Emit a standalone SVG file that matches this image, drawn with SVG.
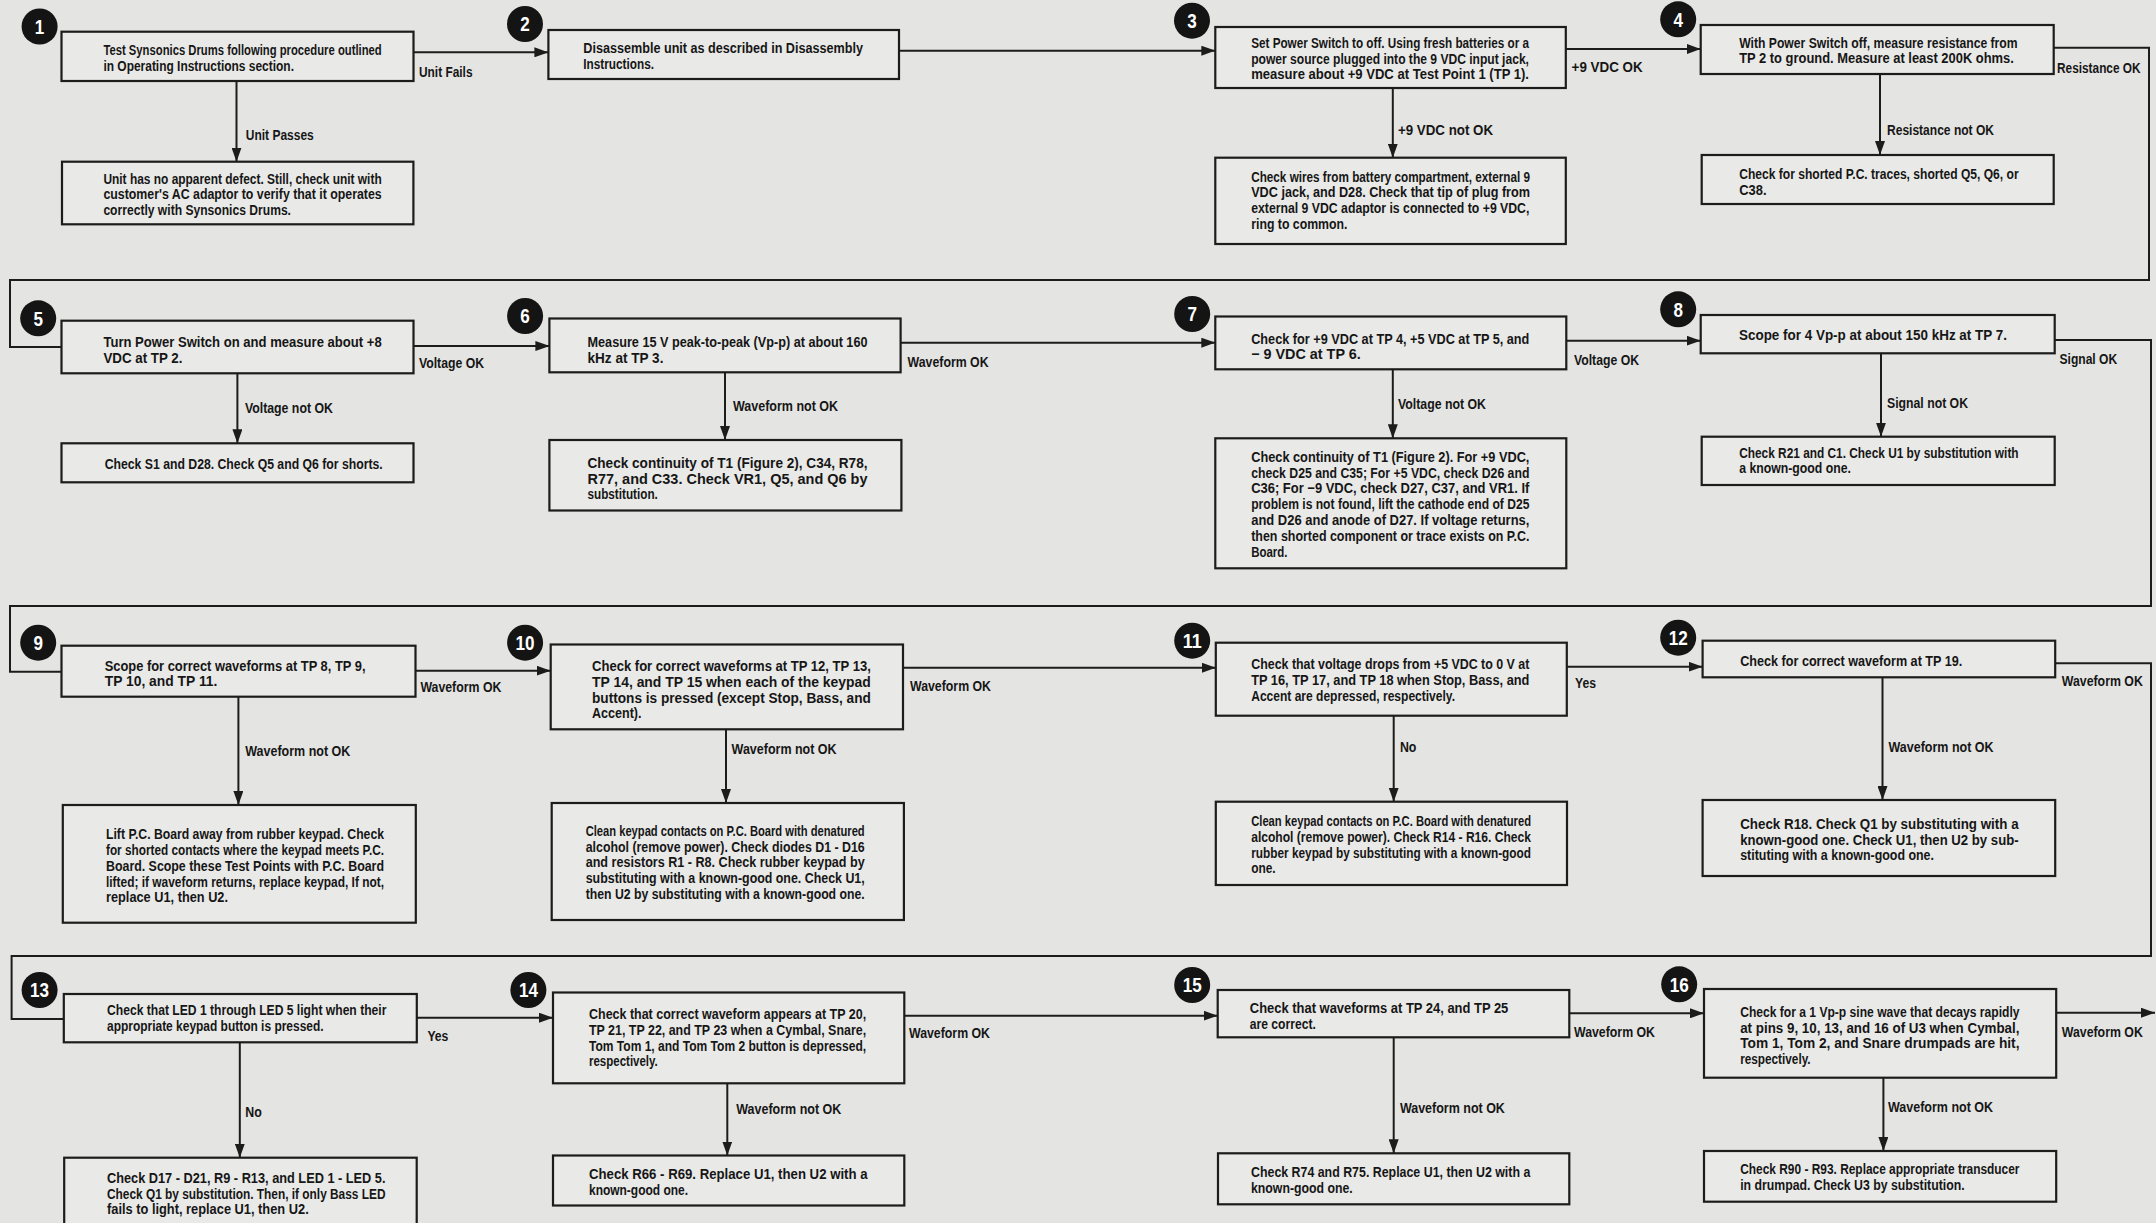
<svg xmlns="http://www.w3.org/2000/svg" width="2156" height="1223" viewBox="0 0 2156 1223">
<style>
.bg{fill:#e4e4e2}
.box{fill:#e9e9e7;stroke:#1c1c1c;stroke-width:2.2}
.badge{fill:#141414}
.num{font-family:"Liberation Sans Narrow","Liberation Sans",Arial,sans-serif;font-weight:700;font-size:21px;fill:#ffffff;text-anchor:middle}
.t{font-family:"Liberation Sans Narrow","Liberation Sans",Arial,sans-serif;font-weight:700;font-size:14.5px;fill:#161616}
.lbl{font-family:"Liberation Sans Narrow","Liberation Sans",Arial,sans-serif;font-weight:700;font-size:14.5px;fill:#161616}
.c{fill:none;stroke:#1c1c1c;stroke-width:2}
.ar{marker-end:url(#ah)}
</style>
<defs>
<marker id="ah" viewBox="0 0 14 10" markerWidth="14" markerHeight="10" refX="14" refY="5" orient="auto" markerUnits="userSpaceOnUse">
<path d="M0,0 L14,5 L0,10 z" fill="#1c1c1c"/>
</marker>
</defs>
<rect class="bg" x="0" y="0" width="2156" height="1223"/>

<g id="connectors">
<path class="c ar" d="M413.4,52.3 H548.4"/>
<path class="c ar" d="M899,50.7 H1215.3"/>
<path class="c ar" d="M1565.5,49 H1700.7"/>
<path class="c ar" d="M236.5,81 V161.7"/>
<path class="c ar" d="M1392.8,88 V157.7"/>
<path class="c ar" d="M1880,74 V155"/>
<path class="c" d="M2053.7,47.7 H2149 V280 H10 V347 H61.5"/>
<path class="c ar" d="M413.4,346 H549.4"/>
<path class="c ar" d="M900.6,342.7 H1215.3"/>
<path class="c ar" d="M1566.3,340.7 H1700.7"/>
<path class="c ar" d="M237.4,373.3 V443.3"/>
<path class="c ar" d="M725,372.3 V440"/>
<path class="c ar" d="M1392.8,369.3 V438.3"/>
<path class="c ar" d="M1881,353.3 V436.7"/>
<path class="c" d="M2054.7,340 H2151 V606 H10 V671.7 H61.5"/>
<path class="c ar" d="M415.5,670.7 H550.7"/>
<path class="c ar" d="M903,667.7 H1215.8"/>
<path class="c ar" d="M1566.8,666.7 H1702.6"/>
<path class="c ar" d="M238.4,696.7 V805"/>
<path class="c ar" d="M726,729.3 V803"/>
<path class="c ar" d="M1393.7,715.7 V801.7"/>
<path class="c ar" d="M1882.5,677.3 V800"/>
<path class="c" d="M2055.2,663.3 H2151 V956 H11.6 V1019 H63.8"/>
<path class="c ar" d="M416.7,1017.7 H553"/>
<path class="c ar" d="M904.3,1015.7 H1217.7"/>
<path class="c ar" d="M1569.3,1013.3 H1704"/>
<path class="c ar" d="M239.8,1042.3 V1157.7"/>
<path class="c ar" d="M727.3,1083.3 V1155.5"/>
<path class="c ar" d="M1393.7,1037.3 V1153.3"/>
<path class="c ar" d="M1883.4,1077.7 V1151"/>
<path class="c ar" d="M2056.2,1012.7 H2155"/>

<text class="lbl" x="419" y="77" textLength="53.5" lengthAdjust="spacingAndGlyphs">Unit Fails</text>
<text class="lbl" x="245.8" y="140" textLength="68" lengthAdjust="spacingAndGlyphs">Unit Passes</text>
<text class="lbl" x="1571.6" y="72" textLength="71" lengthAdjust="spacingAndGlyphs">+9 VDC OK</text>
<text class="lbl" x="1398" y="135" textLength="95" lengthAdjust="spacingAndGlyphs">+9 VDC not OK</text>
<text class="lbl" x="2057" y="73" textLength="83.6" lengthAdjust="spacingAndGlyphs">Resistance OK</text>
<text class="lbl" x="1887" y="135" textLength="107" lengthAdjust="spacingAndGlyphs">Resistance not OK</text>
<text class="lbl" x="419" y="367.7" textLength="65" lengthAdjust="spacingAndGlyphs">Voltage OK</text>
<text class="lbl" x="244.9" y="413.3" textLength="88" lengthAdjust="spacingAndGlyphs">Voltage not OK</text>
<text class="lbl" x="907.6" y="366.7" textLength="81" lengthAdjust="spacingAndGlyphs">Waveform OK</text>
<text class="lbl" x="733" y="410.7" textLength="105" lengthAdjust="spacingAndGlyphs">Waveform not OK</text>
<text class="lbl" x="1574" y="365" textLength="65" lengthAdjust="spacingAndGlyphs">Voltage OK</text>
<text class="lbl" x="1398" y="409" textLength="88" lengthAdjust="spacingAndGlyphs">Voltage not OK</text>
<text class="lbl" x="2059.5" y="364" textLength="57.7" lengthAdjust="spacingAndGlyphs">Signal OK</text>
<text class="lbl" x="1887" y="408.3" textLength="81" lengthAdjust="spacingAndGlyphs">Signal not OK</text>
<text class="lbl" x="420.4" y="691.7" textLength="81" lengthAdjust="spacingAndGlyphs">Waveform OK</text>
<text class="lbl" x="245.3" y="756" textLength="105" lengthAdjust="spacingAndGlyphs">Waveform not OK</text>
<text class="lbl" x="910" y="690.7" textLength="81" lengthAdjust="spacingAndGlyphs">Waveform OK</text>
<text class="lbl" x="731.6" y="754" textLength="105" lengthAdjust="spacingAndGlyphs">Waveform not OK</text>
<text class="lbl" x="1575" y="688.3" textLength="21" lengthAdjust="spacingAndGlyphs">Yes</text>
<text class="lbl" x="1399.9" y="751.7" textLength="16.5" lengthAdjust="spacingAndGlyphs">No</text>
<text class="lbl" x="2061.8" y="686" textLength="81" lengthAdjust="spacingAndGlyphs">Waveform OK</text>
<text class="lbl" x="1888.5" y="751.7" textLength="105" lengthAdjust="spacingAndGlyphs">Waveform not OK</text>
<text class="lbl" x="427.4" y="1040.7" textLength="21" lengthAdjust="spacingAndGlyphs">Yes</text>
<text class="lbl" x="245.3" y="1116.7" textLength="16.5" lengthAdjust="spacingAndGlyphs">No</text>
<text class="lbl" x="909" y="1038.3" textLength="81" lengthAdjust="spacingAndGlyphs">Waveform OK</text>
<text class="lbl" x="736.3" y="1114" textLength="105" lengthAdjust="spacingAndGlyphs">Waveform not OK</text>
<text class="lbl" x="1574" y="1036.7" textLength="81" lengthAdjust="spacingAndGlyphs">Waveform OK</text>
<text class="lbl" x="1399.9" y="1112.7" textLength="105" lengthAdjust="spacingAndGlyphs">Waveform not OK</text>
<text class="lbl" x="2061.8" y="1036.7" textLength="81" lengthAdjust="spacingAndGlyphs">Waveform OK</text>
<text class="lbl" x="1888" y="1111.7" textLength="105" lengthAdjust="spacingAndGlyphs">Waveform not OK</text>
</g>

<g id="n1">
<rect class="box" x="61.5" y="31.7" width="352" height="49.3"/>
<circle class="badge" cx="39.6" cy="26.5" r="18"/>
<text class="num" x="39.6" y="33.8" textLength="9.5" lengthAdjust="spacingAndGlyphs">1</text>
<text class="t" x="103.4" y="55" textLength="278.3" lengthAdjust="spacingAndGlyphs">Test Synsonics Drums following procedure outlined</text>
<text class="t" x="103.4" y="70.7" textLength="190.6" lengthAdjust="spacingAndGlyphs">in Operating Instructions section.</text>
</g>
<g id="n1b">
<rect class="box" x="62" y="161.7" width="351.4" height="62.6"/>
<text class="t" x="103.4" y="183.5" textLength="278.3" lengthAdjust="spacingAndGlyphs">Unit has no apparent defect. Still, check unit with</text>
<text class="t" x="103.4" y="199.3" textLength="278.3" lengthAdjust="spacingAndGlyphs">customer's AC adaptor to verify that it operates</text>
<text class="t" x="103.4" y="215" textLength="187.6" lengthAdjust="spacingAndGlyphs">correctly with Synsonics Drums.</text>
</g>
<g id="n2">
<rect class="box" x="548.4" y="30" width="350.6" height="49"/>
<circle class="badge" cx="525" cy="24" r="18"/>
<text class="num" x="525" y="31.3" textLength="9.5" lengthAdjust="spacingAndGlyphs">2</text>
<text class="t" x="583.3" y="53" textLength="279.7" lengthAdjust="spacingAndGlyphs">Disassemble unit as described in Disassembly</text>
<text class="t" x="583.3" y="69" textLength="70.7" lengthAdjust="spacingAndGlyphs">Instructions.</text>
</g>
<g id="n3">
<rect class="box" x="1215.3" y="27" width="350.5" height="61"/>
<circle class="badge" cx="1192" cy="20.7" r="18"/>
<text class="num" x="1192" y="28" textLength="9.5" lengthAdjust="spacingAndGlyphs">3</text>
<text class="t" x="1251.2" y="48" textLength="277.8" lengthAdjust="spacingAndGlyphs">Set Power Switch to off. Using fresh batteries or a</text>
<text class="t" x="1251.2" y="63.5" textLength="277.8" lengthAdjust="spacingAndGlyphs">power source plugged into the 9 VDC input jack,</text>
<text class="t" x="1251.2" y="79" textLength="277.8" lengthAdjust="spacingAndGlyphs">measure about +9 VDC at Test Point 1 (TP 1).</text>
</g>
<g id="n3b">
<rect class="box" x="1215.3" y="157.7" width="350.5" height="86.3"/>
<text class="t" x="1251.2" y="181.7" textLength="278.8" lengthAdjust="spacingAndGlyphs">Check wires from battery compartment, external 9</text>
<text class="t" x="1251.2" y="197.4" textLength="278.8" lengthAdjust="spacingAndGlyphs">VDC jack, and D28. Check that tip of plug from</text>
<text class="t" x="1251.2" y="213" textLength="278.2" lengthAdjust="spacingAndGlyphs">external 9 VDC adaptor is connected to +9 VDC,</text>
<text class="t" x="1251.2" y="228.7" textLength="96.3" lengthAdjust="spacingAndGlyphs">ring to common.</text>
</g>
<g id="n4">
<rect class="box" x="1700.7" y="25" width="353" height="49"/>
<circle class="badge" cx="1678.2" cy="19.3" r="18"/>
<text class="num" x="1678.2" y="26.6" textLength="9.5" lengthAdjust="spacingAndGlyphs">4</text>
<text class="t" x="1739.2" y="47.7" textLength="278.4" lengthAdjust="spacingAndGlyphs">With Power Switch off, measure resistance from</text>
<text class="t" x="1739.2" y="63.3" textLength="274.7" lengthAdjust="spacingAndGlyphs">TP 2 to ground. Measure at least 200K ohms.</text>
</g>
<g id="n4b">
<rect class="box" x="1701.7" y="155" width="352" height="49"/>
<text class="t" x="1739.2" y="179.3" textLength="279.4" lengthAdjust="spacingAndGlyphs">Check for shorted P.C. traces, shorted Q5, Q6, or</text>
<text class="t" x="1739.2" y="195" textLength="27.3" lengthAdjust="spacingAndGlyphs">C38.</text>
</g>

<g id="n5">
<rect class="box" x="61.5" y="320.7" width="352" height="52.6"/>
<circle class="badge" cx="38.2" cy="318.3" r="18"/>
<text class="num" x="38.2" y="325.6" textLength="9.5" lengthAdjust="spacingAndGlyphs">5</text>
<text class="t" x="103.4" y="347.3" textLength="278.3" lengthAdjust="spacingAndGlyphs">Turn Power Switch on and measure about +8</text>
<text class="t" x="103.4" y="363.3" textLength="79.1" lengthAdjust="spacingAndGlyphs">VDC at TP 2.</text>
</g>
<g id="n5b">
<rect class="box" x="61.5" y="443.3" width="352" height="39"/>
<text class="t" x="104.7" y="469" textLength="278" lengthAdjust="spacingAndGlyphs">Check S1 and D28. Check Q5 and Q6 for shorts.</text>
</g>
<g id="n6">
<rect class="box" x="549.4" y="318.5" width="351.2" height="53.8"/>
<circle class="badge" cx="525.1" cy="316" r="18"/>
<text class="num" x="525.1" y="323.3" textLength="9.5" lengthAdjust="spacingAndGlyphs">6</text>
<text class="t" x="587.5" y="347.3" textLength="280" lengthAdjust="spacingAndGlyphs">Measure 15 V peak-to-peak (Vp-p) at about 160</text>
<text class="t" x="587.5" y="362.7" textLength="75.9" lengthAdjust="spacingAndGlyphs">kHz at TP 3.</text>
</g>
<g id="n6b">
<rect class="box" x="549.4" y="440" width="352" height="70.5"/>
<text class="t" x="587.5" y="468.3" textLength="280" lengthAdjust="spacingAndGlyphs">Check continuity of T1 (Figure 2), C34, R78,</text>
<text class="t" x="587.5" y="484" textLength="280" lengthAdjust="spacingAndGlyphs">R77, and C33. Check VR1, Q5, and Q6 by</text>
<text class="t" x="587.5" y="499.3" textLength="70.3" lengthAdjust="spacingAndGlyphs">substitution.</text>
</g>
<g id="n7">
<rect class="box" x="1215.3" y="316.5" width="351" height="52.8"/>
<circle class="badge" cx="1192.2" cy="314" r="18"/>
<text class="num" x="1192.2" y="321.3" textLength="9.5" lengthAdjust="spacingAndGlyphs">7</text>
<text class="t" x="1251.2" y="344.3" textLength="278.2" lengthAdjust="spacingAndGlyphs">Check for +9 VDC at TP 4, +5 VDC at TP 5, and</text>
<text class="t" x="1251.2" y="359" textLength="109.5" lengthAdjust="spacingAndGlyphs">− 9 VDC at TP 6.</text>
</g>
<g id="n7b">
<rect class="box" x="1215.3" y="438.3" width="351" height="130"/>
<text class="t" x="1251.2" y="461.7" textLength="278.2" lengthAdjust="spacingAndGlyphs">Check continuity of T1 (Figure 2). For +9 VDC,</text>
<text class="t" x="1251.2" y="477.5" textLength="278.2" lengthAdjust="spacingAndGlyphs">check D25 and C35; For +5 VDC, check D26 and</text>
<text class="t" x="1251.2" y="493.3" textLength="278.2" lengthAdjust="spacingAndGlyphs">C36; For −9 VDC, check D27, C37, and VR1. If</text>
<text class="t" x="1251.2" y="509.1" textLength="278.2" lengthAdjust="spacingAndGlyphs">problem is not found, lift the cathode end of D25</text>
<text class="t" x="1251.2" y="524.9" textLength="278.2" lengthAdjust="spacingAndGlyphs">and D26 and anode of D27. If voltage returns,</text>
<text class="t" x="1251.2" y="540.7" textLength="278.2" lengthAdjust="spacingAndGlyphs">then shorted component or trace exists on P.C.</text>
<text class="t" x="1251.2" y="556.5" textLength="36.3" lengthAdjust="spacingAndGlyphs">Board.</text>
</g>
<g id="n8">
<rect class="box" x="1700.7" y="315" width="354" height="38.3"/>
<circle class="badge" cx="1678.2" cy="309.3" r="18"/>
<text class="num" x="1678.2" y="316.6" textLength="9.5" lengthAdjust="spacingAndGlyphs">8</text>
<text class="t" x="1739" y="340" textLength="267.9" lengthAdjust="spacingAndGlyphs">Scope for 4 Vp-p at about 150 kHz at TP 7.</text>
</g>
<g id="n8b">
<rect class="box" x="1701.7" y="436.7" width="353" height="48.3"/>
<text class="t" x="1739.2" y="457.7" textLength="279.4" lengthAdjust="spacingAndGlyphs">Check R21 and C1. Check U1 by substitution with</text>
<text class="t" x="1739.2" y="473.3" textLength="111.8" lengthAdjust="spacingAndGlyphs">a known-good one.</text>
</g>

<g id="n9">
<rect class="box" x="61.5" y="645.7" width="354" height="51"/>
<circle class="badge" cx="38.2" cy="642.7" r="18"/>
<text class="num" x="38.2" y="650" textLength="9.5" lengthAdjust="spacingAndGlyphs">9</text>
<text class="t" x="104.7" y="670.7" textLength="260.8" lengthAdjust="spacingAndGlyphs">Scope for correct waveforms at TP 8, TP 9,</text>
<text class="t" x="104.7" y="686" textLength="112.7" lengthAdjust="spacingAndGlyphs">TP 10, and TP 11.</text>
</g>
<g id="n9b">
<rect class="box" x="62.8" y="805" width="353" height="117.7"/>
<text class="t" x="106" y="839.3" textLength="278" lengthAdjust="spacingAndGlyphs">Lift P.C. Board away from rubber keypad. Check</text>
<text class="t" x="106" y="855" textLength="278" lengthAdjust="spacingAndGlyphs">for shorted contacts where the keypad meets P.C.</text>
<text class="t" x="106" y="870.8" textLength="278" lengthAdjust="spacingAndGlyphs">Board. Scope these Test Points with P.C. Board</text>
<text class="t" x="106" y="886.6" textLength="278" lengthAdjust="spacingAndGlyphs">lifted; if waveform returns, replace keypad, If not,</text>
<text class="t" x="106" y="902.4" textLength="122" lengthAdjust="spacingAndGlyphs">replace U1, then U2.</text>
</g>
<g id="n10">
<rect class="box" x="550.7" y="644.5" width="352.3" height="84.8"/>
<circle class="badge" cx="525.1" cy="642.7" r="18"/>
<text class="num" x="525.1" y="650" textLength="19" lengthAdjust="spacingAndGlyphs">10</text>
<text class="t" x="592" y="671" textLength="278.8" lengthAdjust="spacingAndGlyphs">Check for correct waveforms at TP 12, TP 13,</text>
<text class="t" x="592" y="686.8" textLength="278.8" lengthAdjust="spacingAndGlyphs">TP 14, and TP 15 when each of the keypad</text>
<text class="t" x="592" y="702.6" textLength="278.8" lengthAdjust="spacingAndGlyphs">buttons is pressed (except Stop, Bass, and</text>
<text class="t" x="592" y="718.4" textLength="49.5" lengthAdjust="spacingAndGlyphs">Accent).</text>
</g>
<g id="n10b">
<rect class="box" x="551.7" y="803" width="352.2" height="117"/>
<text class="t" x="585.7" y="835.7" textLength="279" lengthAdjust="spacingAndGlyphs">Clean keypad contacts on P.C. Board with denatured</text>
<text class="t" x="585.7" y="851.5" textLength="279" lengthAdjust="spacingAndGlyphs">alcohol (remove power). Check diodes D1 - D16</text>
<text class="t" x="585.7" y="867.3" textLength="279" lengthAdjust="spacingAndGlyphs">and resistors R1 - R8. Check rubber keypad by</text>
<text class="t" x="585.7" y="883.1" textLength="279" lengthAdjust="spacingAndGlyphs">substituting with a known-good one. Check U1,</text>
<text class="t" x="585.7" y="898.9" textLength="279" lengthAdjust="spacingAndGlyphs">then U2 by substituting with a known-good one.</text>
</g>
<g id="n11">
<rect class="box" x="1215.8" y="642.7" width="351" height="73"/>
<circle class="badge" cx="1192.2" cy="640.7" r="18"/>
<text class="num" x="1192.2" y="648" textLength="19" lengthAdjust="spacingAndGlyphs">11</text>
<text class="t" x="1251.2" y="669" textLength="278.2" lengthAdjust="spacingAndGlyphs">Check that voltage drops from +5 VDC to 0 V at</text>
<text class="t" x="1251.2" y="684.8" textLength="278.2" lengthAdjust="spacingAndGlyphs">TP 16, TP 17, and TP 18 when Stop, Bass, and</text>
<text class="t" x="1251.2" y="700.6" textLength="203.8" lengthAdjust="spacingAndGlyphs">Accent are depressed, respectively.</text>
</g>
<g id="n11b">
<rect class="box" x="1215.8" y="801.7" width="351.2" height="83.3"/>
<text class="t" x="1251.2" y="826" textLength="279.8" lengthAdjust="spacingAndGlyphs">Clean keypad contacts on P.C. Board with denatured</text>
<text class="t" x="1251.2" y="841.8" textLength="279.8" lengthAdjust="spacingAndGlyphs">alcohol (remove power). Check R14 - R16. Check</text>
<text class="t" x="1251.2" y="857.6" textLength="279.8" lengthAdjust="spacingAndGlyphs">rubber keypad by substituting with a known-good</text>
<text class="t" x="1251.2" y="873.4" textLength="24.5" lengthAdjust="spacingAndGlyphs">one.</text>
</g>
<g id="n12">
<rect class="box" x="1702.6" y="640.7" width="352.6" height="36.6"/>
<circle class="badge" cx="1678.2" cy="637.7" r="18"/>
<text class="num" x="1678.2" y="645" textLength="19" lengthAdjust="spacingAndGlyphs">12</text>
<text class="t" x="1740.2" y="666" textLength="222.1" lengthAdjust="spacingAndGlyphs">Check for correct waveform at TP 19.</text>
</g>
<g id="n12b">
<rect class="box" x="1702.6" y="800" width="352.6" height="76"/>
<text class="t" x="1740.2" y="828.7" textLength="278.4" lengthAdjust="spacingAndGlyphs">Check R18. Check Q1 by substituting with a</text>
<text class="t" x="1740.2" y="844.5" textLength="278.4" lengthAdjust="spacingAndGlyphs">known-good one. Check U1, then U2 by sub-</text>
<text class="t" x="1740.2" y="860.3" textLength="193.8" lengthAdjust="spacingAndGlyphs">stituting with a known-good one.</text>
</g>

<g id="n13">
<rect class="box" x="63.8" y="994" width="353" height="48.3"/>
<circle class="badge" cx="39.6" cy="990" r="18"/>
<text class="num" x="39.6" y="997.3" textLength="19" lengthAdjust="spacingAndGlyphs">13</text>
<text class="t" x="107" y="1015" textLength="279.4" lengthAdjust="spacingAndGlyphs">Check that LED 1 through LED 5 light when their</text>
<text class="t" x="107" y="1030.5" textLength="216.6" lengthAdjust="spacingAndGlyphs">appropriate keypad button is pressed.</text>
</g>
<g id="n13b">
<rect class="box" x="64.2" y="1157.7" width="352.5" height="90"/>
<text class="t" x="107" y="1182.7" textLength="278.5" lengthAdjust="spacingAndGlyphs">Check D17 - D21, R9 - R13, and LED 1 - LED 5.</text>
<text class="t" x="107" y="1198.5" textLength="278.5" lengthAdjust="spacingAndGlyphs">Check Q1 by substitution. Then, if only Bass LED</text>
<text class="t" x="107" y="1214.3" textLength="201.7" lengthAdjust="spacingAndGlyphs">fails to light, replace U1, then U2.</text>
</g>
<g id="n14">
<rect class="box" x="553" y="992.5" width="351.3" height="90.8"/>
<circle class="badge" cx="528.4" cy="990" r="18"/>
<text class="num" x="528.4" y="997.3" textLength="19" lengthAdjust="spacingAndGlyphs">14</text>
<text class="t" x="589" y="1019" textLength="277.1" lengthAdjust="spacingAndGlyphs">Check that correct waveform appears at TP 20,</text>
<text class="t" x="589" y="1034.8" textLength="277.1" lengthAdjust="spacingAndGlyphs">TP 21, TP 22, and TP 23 when a Cymbal, Snare,</text>
<text class="t" x="589" y="1050.6" textLength="277.1" lengthAdjust="spacingAndGlyphs">Tom Tom 1, and Tom Tom 2 button is depressed,</text>
<text class="t" x="589" y="1066.4" textLength="68.8" lengthAdjust="spacingAndGlyphs">respectively.</text>
</g>
<g id="n14b">
<rect class="box" x="553" y="1155.5" width="351.3" height="50"/>
<text class="t" x="589" y="1179.3" textLength="278.5" lengthAdjust="spacingAndGlyphs">Check R66 - R69. Replace U1, then U2 with a</text>
<text class="t" x="589" y="1195.1" textLength="99" lengthAdjust="spacingAndGlyphs">known-good one.</text>
</g>
<g id="n15">
<rect class="box" x="1217.7" y="990" width="351.6" height="47.3"/>
<circle class="badge" cx="1192.2" cy="985" r="18"/>
<text class="num" x="1192.2" y="992.3" textLength="19" lengthAdjust="spacingAndGlyphs">15</text>
<text class="t" x="1249.8" y="1012.7" textLength="258.5" lengthAdjust="spacingAndGlyphs">Check that waveforms at TP 24, and TP 25</text>
<text class="t" x="1249.8" y="1028.5" textLength="66" lengthAdjust="spacingAndGlyphs">are correct.</text>
</g>
<g id="n15b">
<rect class="box" x="1218" y="1153.3" width="351.3" height="51"/>
<text class="t" x="1251" y="1176.7" textLength="279.3" lengthAdjust="spacingAndGlyphs">Check R74 and R75. Replace U1, then U2 with a</text>
<text class="t" x="1251" y="1192.5" textLength="101.7" lengthAdjust="spacingAndGlyphs">known-good one.</text>
</g>
<g id="n16">
<rect class="box" x="1704" y="989" width="352.2" height="88.7"/>
<circle class="badge" cx="1679.2" cy="984.3" r="18"/>
<text class="num" x="1679.2" y="991.6" textLength="19" lengthAdjust="spacingAndGlyphs">16</text>
<text class="t" x="1740.2" y="1016.7" textLength="279.3" lengthAdjust="spacingAndGlyphs">Check for a 1 Vp-p sine wave that decays rapidly</text>
<text class="t" x="1740.2" y="1032.5" textLength="279.3" lengthAdjust="spacingAndGlyphs">at pins 9, 10, 13, and 16 of U3 when Cymbal,</text>
<text class="t" x="1740.2" y="1048.3" textLength="279.3" lengthAdjust="spacingAndGlyphs">Tom 1, Tom 2, and Snare drumpads are hit,</text>
<text class="t" x="1740.2" y="1064.1" textLength="70.4" lengthAdjust="spacingAndGlyphs">respectively.</text>
</g>
<g id="n16b">
<rect class="box" x="1704" y="1151" width="352.2" height="50.7"/>
<text class="t" x="1740.2" y="1174.3" textLength="279.3" lengthAdjust="spacingAndGlyphs">Check R90 - R93. Replace appropriate transducer</text>
<text class="t" x="1740.2" y="1190.1" textLength="224.4" lengthAdjust="spacingAndGlyphs">in drumpad. Check U3 by substitution.</text>
</g>
</svg>
